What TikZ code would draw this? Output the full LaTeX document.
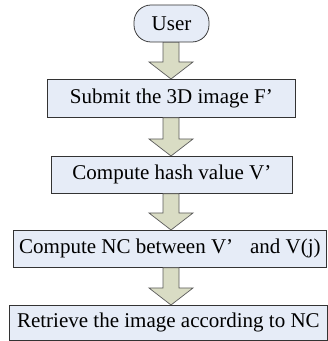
\documentclass[tikz,border=0pt]{standalone}
\usepackage{fontspec}
\setmainfont{Liberation Serif}
\usetikzlibrary{calc}
\definecolor{boxfill}{HTML}{E6ECF7}
\definecolor{boxline}{HTML}{333333}
\definecolor{arrfill}{HTML}{D9DCC4}
\definecolor{arrline}{HTML}{5A5A5A}
\tikzset{
  flowbox/.style={draw=boxline, fill=boxfill, line width=0.75pt, inner sep=0pt,
    font=\fontsize{21}{24}\selectfont, anchor=north west},
  userbox/.style={draw=boxline, fill=boxfill, line width=0.75pt, inner sep=0pt,
    rounded corners=17pt, font=\fontsize{21}{24}\selectfont,
    minimum width=75pt, minimum height=37pt},
  blockarrow/.style={draw=arrline, fill=arrfill, line width=0.7pt, line join=miter}
}
\newcommand{\blockarr}[2]{%
  \draw[blockarrow] let \p1=(#1.south), \p2=(#2.north) in
    (171-8,\y1) -- (171+8,\y1) -- (171+8,\y2+17) -- (171+22,\y2+17) --
    (171,\y2) -- (171-22,\y2+17) -- (171-8,\y2+17) -- cycle;}
\begin{document}
\begin{tikzpicture}[x=1pt,y=1pt]
\useasboundingbox (0,0) rectangle (328,341);
% User: y 5..42
\node[userbox] (user) at (171.5,341-23.5) {User};
% box1: x 47..295, y 79..117
\node[flowbox, minimum width=248pt, minimum height=38pt] (b1) at (47,341-79)
  {Submit the 3D image F’\hspace{0.55em}};
% box2: x 51..292, y 156..193
\node[flowbox, minimum width=241pt, minimum height=37pt] (b2) at (51,341-156)
  {Compute hash value V’\hspace{0.7em}};
% box3: x 13..327, y 230..267
\node[flowbox, minimum width=313pt, minimum height=37pt] (b3) at (13,341-230)
  {Compute NC between V’\hspace{0.55em} and V(j)};
% box4: x 9..327, y 305..340
\node[flowbox, minimum width=318pt, minimum height=35pt] (b4) at (9,341-305)
  {Retrieve the image according to NC};
\blockarr{user}{b1}
\blockarr{b1}{b2}
\blockarr{b2}{b3}
\blockarr{b3}{b4}
\end{tikzpicture}
\end{document}
